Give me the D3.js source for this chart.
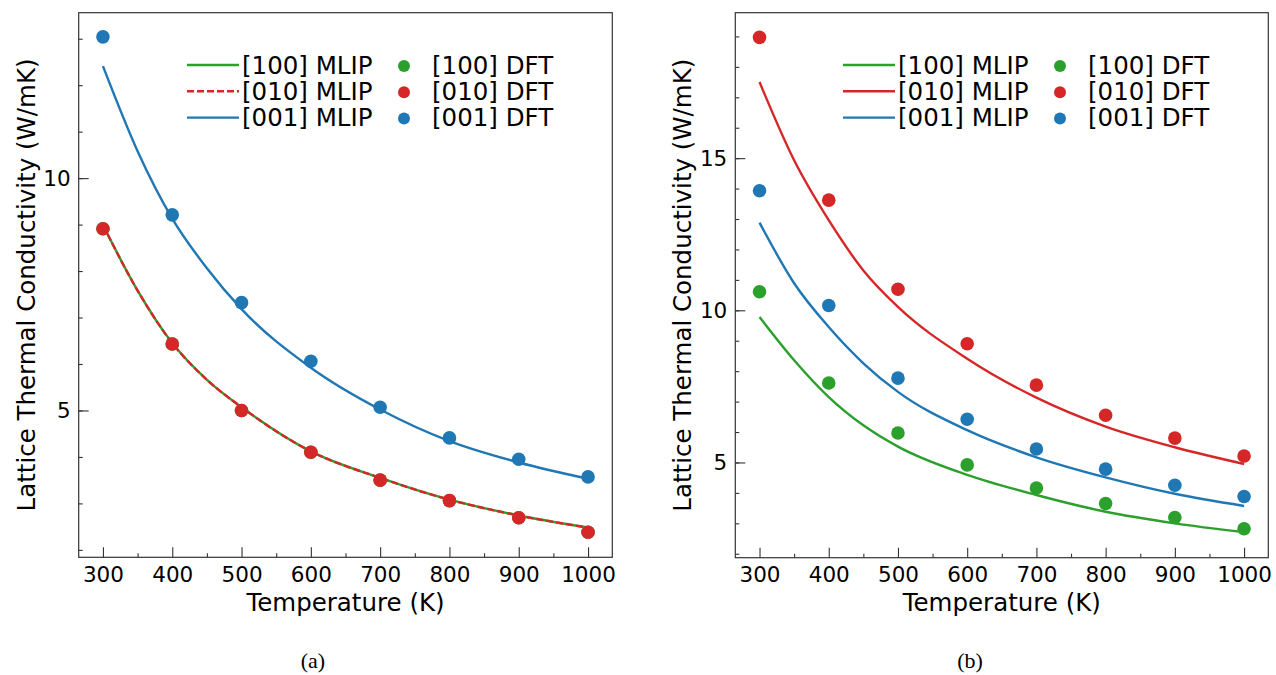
<!DOCTYPE html>
<html>
<head>
<meta charset="utf-8">
<script src="https://cdn.jsdelivr.net/npm/d3@7"></script>
<style>
  body { margin: 0; background: #fff; }
  text { font-family: "DejaVu Sans", sans-serif; fill: #000; }
  .caption { font-family: "Liberation Serif", "Times New Roman", serif; }
</style>
</head>
<body>
<div id="graph"></div>
<script>
// DFT points
var temps = [300, 400, 500, 600, 700, 800, 900, 1000];
// MLIP curves read at these temperatures
var mlipT = [300, 350, 400, 450, 500, 600, 700, 800, 900, 1000];

// panel (a)
var dftA100 = [8.91, 6.43, 5.00, 4.10, 3.50, 3.06, 2.69, 2.38];
var dftA010 = [8.91, 6.43, 5.00, 4.10, 3.50, 3.06, 2.69, 2.38];
var dftA001 = [13.04, 9.21, 7.32, 6.06, 5.07, 4.41, 3.95, 3.57];
var mlipA100 = [8.99, 7.58, 6.45, 5.66, 5.07, 4.12, 3.55, 3.08, 2.74, 2.48];
var mlipA010 = [8.99, 7.58, 6.45, 5.66, 5.07, 4.12, 3.55, 3.08, 2.74, 2.48];
var mlipA001 = [12.41, 10.58, 9.13, 8.06, 7.18, 5.92, 5.02, 4.34, 3.88, 3.53];

// panel (b)
var dftB100 = [10.61, 7.61, 5.97, 4.92, 4.16, 3.65, 3.19, 2.82];
var dftB010 = [18.97, 13.62, 10.69, 8.90, 7.54, 6.55, 5.80, 5.21];
var dftB001 = [13.93, 10.16, 7.77, 6.42, 5.44, 4.78, 4.25, 3.88];
var mlipB100 = [9.78, 8.36, 7.15, 6.22, 5.52, 4.59, 3.93, 3.38, 3.00, 2.71];
var mlipB010 = [17.50, 14.93, 12.96, 11.31, 10.11, 8.41, 7.13, 6.18, 5.50, 4.95];
var mlipB001 = [12.88, 10.89, 9.45, 8.26, 7.32, 6.06, 5.17, 4.51, 3.97, 3.57];

var xTicks = [300, 400, 500, 600, 700, 800, 900, 1000];
var xMinor = [350, 450, 550, 650, 750, 850, 950];
var yTicksA = [5, 10];
var yTicksB = [5, 10, 15];
var xDomain = [265, 1035];
var yDomainA = [1.84, 13.56];
var yDomainB = [1.87, 19.78];

var green = "#2ca02c", red = "#d62728", blue = "#1f77b4";

var svg = d3.select("#graph")
    .append("svg")
        .attr("width", 1276)
        .attr("height", 675);

function drawPanel(opt) {
    var x = d3.scaleLinear().domain(xDomain).range([opt.left, opt.right]);
    var y = d3.scaleLinear().domain(opt.yDomain).range([opt.bottom, opt.top]);

    var g = svg.append("g");

    // minor ticks
    g.append("g")
        .attr("transform", "translate(0," + opt.bottom + ")")
        .call(d3.axisBottom(x).tickValues(xMinor).tickSizeInner(-4).tickSizeOuter(0).tickFormat(""))
        .call(function(s) { s.select(".domain").remove(); });
    g.append("g")
        .attr("transform", "translate(" + opt.left + ",0)")
        .call(d3.axisLeft(y).tickValues(d3.range(Math.ceil(opt.yDomain[0]), opt.yDomain[1], 1))
            .tickSizeInner(-4).tickSizeOuter(0).tickFormat(""))
        .call(function(s) { s.select(".domain").remove(); });

    // major ticks
    var xa = g.append("g")
        .attr("transform", "translate(0," + opt.bottom + ")")
        .call(d3.axisBottom(x).tickValues(xTicks).tickFormat(d3.format("d"))
            .tickSizeInner(-10).tickSizeOuter(0).tickPadding(9));
    var ya = g.append("g")
        .attr("transform", "translate(" + opt.left + ",0)")
        .call(d3.axisLeft(y).tickValues(opt.yTicks).tickSizeInner(-10).tickSizeOuter(0).tickPadding(8));
    [xa, ya].forEach(function(a) {
        a.select(".domain").remove();
        a.selectAll("text").style("font-size", "21.5px").style("font-family", "DejaVu Sans");
    });
    g.selectAll(".tick line").attr("stroke", "#333").attr("stroke-width", 1.1);

    // frame
    g.append("rect")
        .attr("x", opt.left)
        .attr("y", opt.top)
        .attr("width", opt.right - opt.left)
        .attr("height", opt.bottom - opt.top)
        .style("fill", "none")
        .style("stroke", "#333")
        .style("stroke-width", 1.2);

    var line = d3.line()
        .x(function(d) { return x(d[0]); })
        .y(function(d) { return y(d[1]); })
        .curve(d3.curveMonotoneX);

    opt.lines.forEach(function(s) {
        g.append("path")
            .datum(d3.zip(mlipT, s.values))
            .attr("d", line)
            .style("fill", "none")
            .style("stroke", s.color)
            .style("stroke-width", 2.4)
            .style("stroke-dasharray", s.dash ? "7,3" : null);
    });

    opt.dots.forEach(function(s) {
        g.selectAll(null)
            .data(d3.zip(temps, s.values))
            .enter()
            .append("circle")
            .attr("cx", function(d) { return x(d[0]); })
            .attr("cy", function(d) { return y(d[1]); })
            .attr("r", 6.8)
            .style("fill", s.color);
    });

    // legend
    var lx = opt.legendX;
    opt.lines.forEach(function(s, i) {
        var ly = 65 + i * 26.3;
        g.append("line")
            .attr("x1", lx).attr("x2", lx + 52)
            .attr("y1", ly).attr("y2", ly)
            .style("stroke", s.color)
            .style("stroke-width", 2.4)
            .style("stroke-dasharray", s.dash ? "7,3" : null);
        g.append("text")
            .attr("x", lx + 55).attr("y", ly)
            .attr("dy", "0.36em")
            .style("font-size", "24.5px")
            .text(s.name);
    });
    opt.dots.forEach(function(s, i) {
        var ly = 65 + i * 26.3;
        g.append("circle")
            .attr("cx", lx + 217).attr("cy", ly + 1)
            .attr("r", 6)
            .style("fill", s.color);
        g.append("text")
            .attr("x", lx + 245).attr("y", ly)
            .attr("dy", "0.36em")
            .style("font-size", "24.5px")
            .text(s.name);
    });

    // axis labels
    g.append("text")
        .attr("text-anchor", "middle")
        .attr("x", (opt.left + opt.right) / 2)
        .attr("y", 611)
        .style("font-size", "24.5px")
        .text("Temperature (K)");

    g.append("text")
        .attr("text-anchor", "middle")
        .attr("transform", "translate(" + (opt.left - 44) + "," + ((opt.top + opt.bottom) / 2) + ") rotate(-90)")
        .style("font-size", "24.5px")
        .text("Lattice Thermal Conductivity (W/mK)");

    g.append("text")
        .attr("class", "caption")
        .attr("text-anchor", "middle")
        .attr("x", opt.captionX)
        .attr("y", 668)
        .style("font-size", "22px")
        .text(opt.caption);
}

drawPanel({
    left: 78.7, right: 612.3, top: 12.7, bottom: 557.3,
    yDomain: yDomainA, yTicks: yTicksA,
    legendX: 187, captionX: 313, caption: "(a)",
    lines: [
        {name: "[100] MLIP", values: mlipA100, color: green},
        {name: "[010] MLIP", values: mlipA010, color: red, dash: true},
        {name: "[001] MLIP", values: mlipA001, color: blue}
    ],
    dots: [
        {name: "[100] DFT", values: dftA100, color: green},
        {name: "[010] DFT", values: dftA010, color: red},
        {name: "[001] DFT", values: dftA001, color: blue}
    ]
});

drawPanel({
    left: 735.3, right: 1268.3, top: 12.7, bottom: 557.7,
    yDomain: yDomainB, yTicks: yTicksB,
    legendX: 843, captionX: 970, caption: "(b)",
    lines: [
        {name: "[100] MLIP", values: mlipB100, color: green},
        {name: "[010] MLIP", values: mlipB010, color: red},
        {name: "[001] MLIP", values: mlipB001, color: blue}
    ],
    dots: [
        {name: "[100] DFT", values: dftB100, color: green},
        {name: "[010] DFT", values: dftB010, color: red},
        {name: "[001] DFT", values: dftB001, color: blue}
    ]
});
</script>
</body>
</html>
